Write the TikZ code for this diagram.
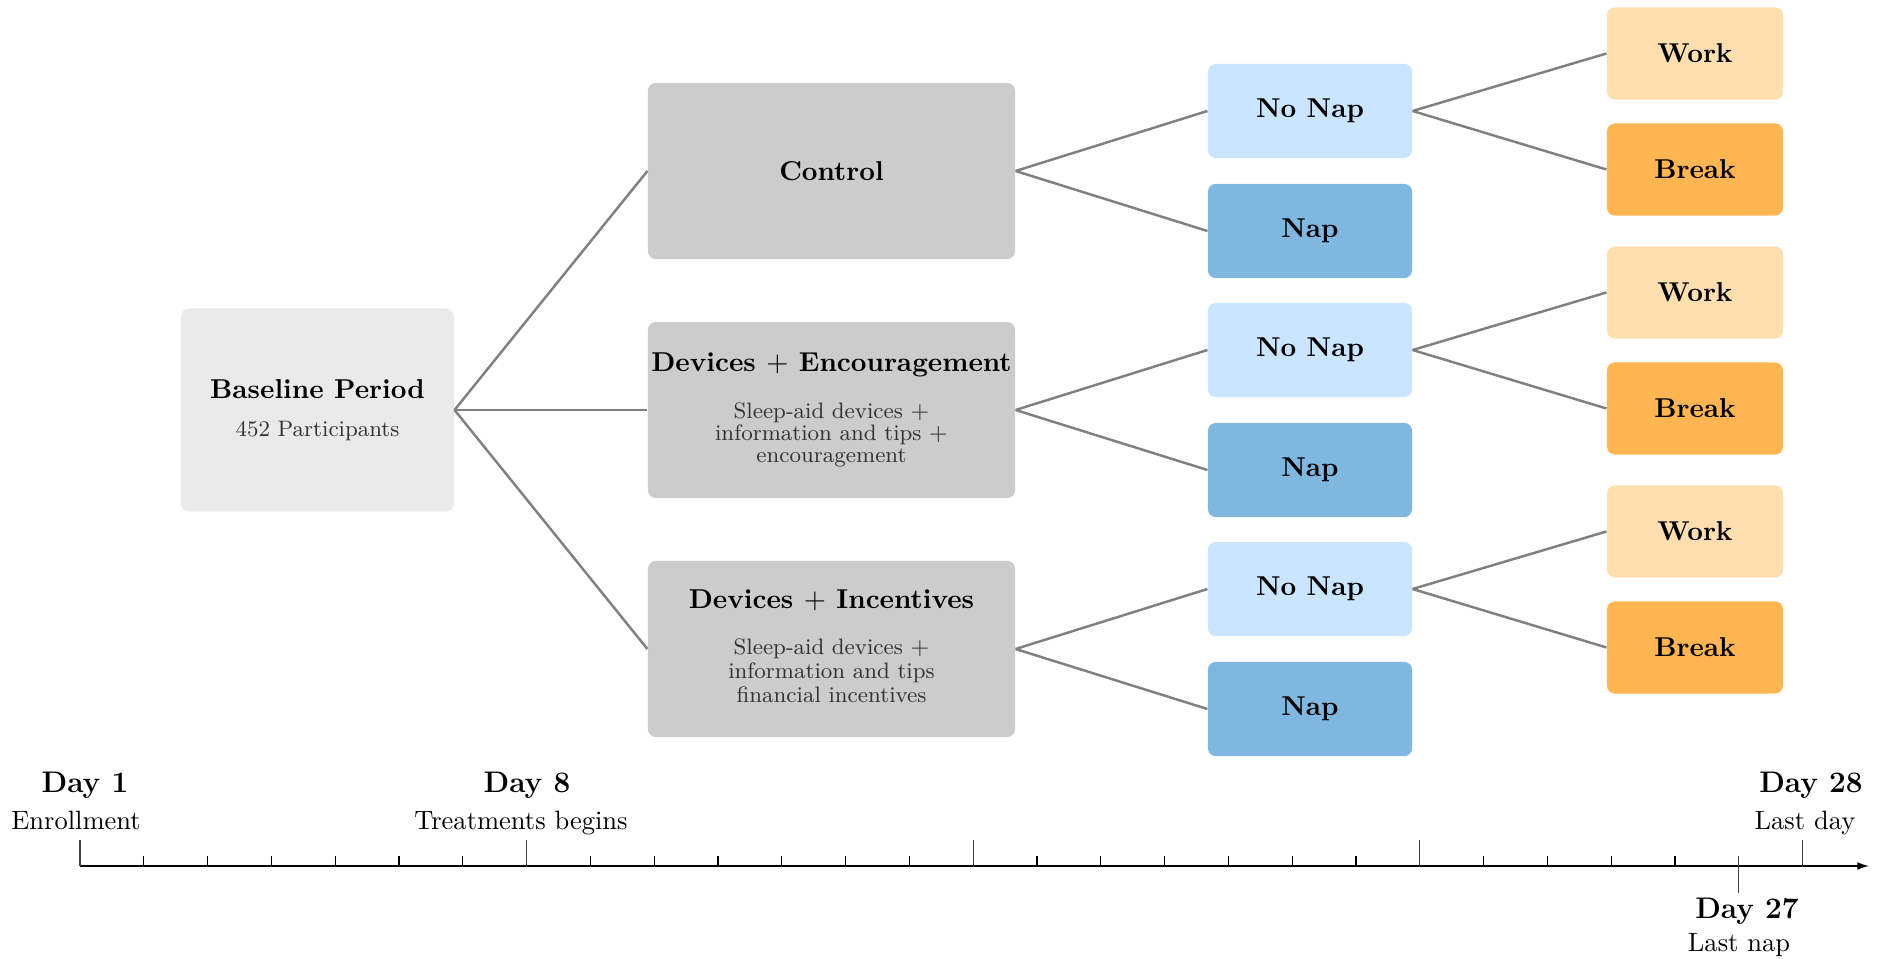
\documentclass[tikz,border=0pt]{standalone}
\usetikzlibrary{arrows.meta}
\definecolor{baseclr}{RGB}{234,234,234}
\definecolor{treatclr}{RGB}{204,204,204}
\definecolor{nonapclr}{RGB}{201,229,255}
\definecolor{napclr}{RGB}{128,183,224}
\definecolor{workclr}{RGB}{255,222,175}
\definecolor{brkclr}{RGB}{255,181,82}
\definecolor{linkgray}{RGB}{128,128,128}
\definecolor{subgray}{RGB}{50,50,50}
\newcommand{\daybf}{\fontsize{11.45}{13}\bfseries\selectfont}
\newcommand{\daytxt}{\fontsize{10.2}{12}\selectfont}
\newcommand{\subtxt}{\mdseries\fontsize{8.6}{8.5}\selectfont\color{subgray}}
\begin{document}
\begin{tikzpicture}[x=0.3846pt,y=-0.3846pt,
  box/.style={rounded corners=3pt, inner sep=0.5pt, align=center,
    font=\fontsize{10.5}{12}\bfseries\selectfont},
  base/.style={box, fill=baseclr, minimum width=105pt, minimum height=78.1pt},
  treat/.style={box, fill=treatclr, minimum width=141.2pt, minimum height=67.7pt},
  nonap/.style={box, fill=nonapclr, minimum width=78.5pt, minimum height=36.2pt},
  nap/.style={box, fill=napclr, minimum width=78.5pt, minimum height=36.2pt},
  work/.style={box, fill=workclr, minimum width=67.7pt, minimum height=35.4pt},
  brk/.style={box, fill=brkclr, minimum width=67.7pt, minimum height=35.4pt},
  link/.style={draw=linkgray, line width=0.95pt},
  daynum/.style={anchor=base, inner sep=0pt, font=\daybf},
  daydesc/.style={anchor=base, inner sep=0pt, font=\daytxt},
  minortick/.style={draw=black, line width=0.4pt},
  majortick/.style={draw=black!75, line width=0.5pt}]
\useasboundingbox (0,0) rectangle (1881,959);

% baseline and the three treatment arms
\node[base] (base) at (317.5,410) {Baseline Period\\[2.5pt]\subtxt 452 Participants};
\node[treat] (ctrl) at (831.5,171) {Control};
\node[treat] (enc) at (831.5,410) {Devices $+$ Encouragement\\[6pt]\subtxt Sleep-aid devices $+$\\[-3.5pt] \subtxt information and tips $+$\\[-3.5pt] \subtxt encouragement};
\node[treat] (inc) at (831.5,649) {Devices $+$ Incentives\\[6pt]\subtxt Sleep-aid devices $+$\\[-2.8pt] \subtxt information and tips\\[-2.8pt] \subtxt financial incentives\rule[-2.3pt]{0pt}{0pt}};

% nap / no-nap split for each arm, with work / break for no-nap
\foreach \arm/\y in {ctrl/111, enc/350, inc/589}{
  \node[nonap] (\arm-nonap) at (1310,\y) {No Nap};
  \node[nap] (\arm-nap) at (1310,\y+120) {Nap};
  \node[work] (\arm-work) at (1695,\y-57.5) {Work};
  \node[brk] (\arm-brk) at (1695,\y+58.5) {Break};
  \draw[link] (\arm.east) -- (\arm-nonap.west);
  \draw[link] (\arm.east) -- (\arm-nap.west);
  \draw[link] (\arm-nonap.east) -- (\arm-work.west);
  \draw[link] (\arm-nonap.east) -- (\arm-brk.west);
}
\draw[link] (base.east) -- (ctrl.west);
\draw[link] (base.east) -- (enc.west);
\draw[link] (base.east) -- (inc.west);

% timeline
\coordinate (tstart) at (80,866);
\coordinate (tend) at (1869,866);
\draw[line width=0.5pt, -{Latex[length=4.5pt,width=3pt]}] (tstart) -- (tend);
\foreach \d in {2,...,7,9,10,...,14,16,17,...,21,23,24,25,26}{
  \draw[minortick] ({80+(\d-1)*63.8},866) -- ({80+(\d-1)*63.8},856);
}
\foreach \d in {1,8,15,22,28}{
  \draw[majortick] ({80+(\d-1)*63.8},866) -- ({80+(\d-1)*63.8},840);
}
\draw[majortick] ({80+26*63.8},856) -- ({80+26*63.8},893);

\node[daynum] (d1) at (85,792) {Day 1};
\node[daydesc] (d1t) at (76,829) {Enrollment};
\node[daynum] (d8) at (527,792) {Day 8};
\node[daydesc] (d8t) at (521,829) {Treatments begins};
\node[daynum] (d28) at (1811,792) {Day 28};
\node[daydesc] (d28t) at (1805,829) {Last day};
\node[daynum] (d27) at (1747,918) {Day 27};
\node[daydesc] (d27t) at (1739,951) {Last nap};
\end{tikzpicture}
\end{document}
